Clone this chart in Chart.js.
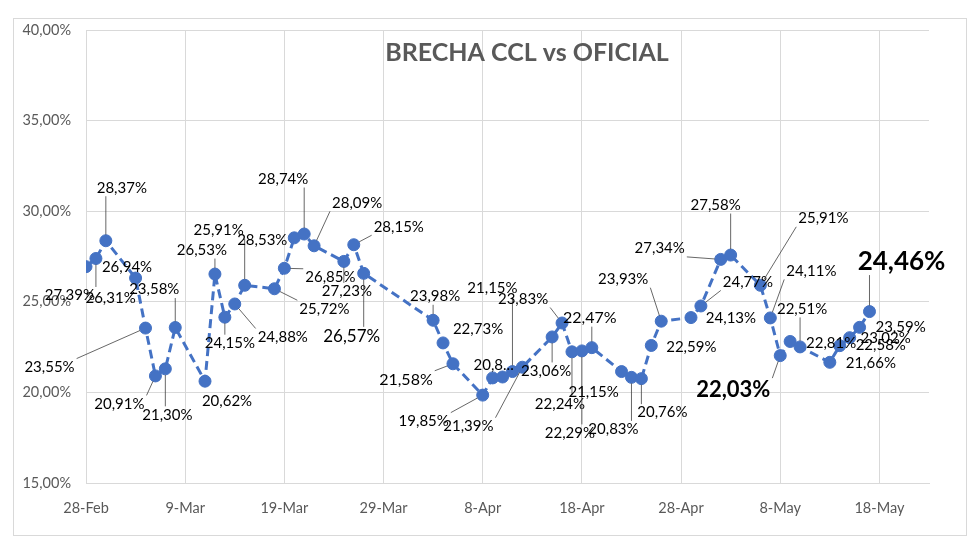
<!DOCTYPE html>
<html><head><meta charset="utf-8">
<script src="https://cdn.jsdelivr.net/npm/chart.js@4.4.1/dist/chart.umd.min.js"></script>
<style>html,body{margin:0;padding:0;background:#fff}#wrap{width:980px;height:551px;position:relative}</style>
</head><body><div id="wrap"><canvas id="c" width="980" height="551"></canvas></div>
<script>
// ---- DATA ----
const chartTitle = 'BRECHA CCL vs OFICIAL';
const dates = ['2024-02-28','2024-02-29','2024-03-01','2024-03-04','2024-03-05','2024-03-06','2024-03-07','2024-03-08',
 '2024-03-11','2024-03-12','2024-03-13','2024-03-14','2024-03-15','2024-03-18','2024-03-19','2024-03-20','2024-03-21','2024-03-22',
 '2024-03-25','2024-03-26','2024-03-27','2024-04-03','2024-04-04','2024-04-05','2024-04-08','2024-04-09','2024-04-10','2024-04-11',
 '2024-04-12','2024-04-15','2024-04-16','2024-04-17','2024-04-18','2024-04-19','2024-04-22','2024-04-23','2024-04-24','2024-04-25',
 '2024-04-26','2024-04-29','2024-04-30','2024-05-02','2024-05-03','2024-05-06','2024-05-07','2024-05-08','2024-05-09','2024-05-10',
 '2024-05-13','2024-05-14','2024-05-15','2024-05-16','2024-05-17'];
const brecha = [26.94,27.39,28.37,26.31,23.55,20.91,21.30,23.58,
 20.62,26.53,24.15,24.88,25.91,25.72,26.85,28.53,28.74,28.09,
 27.23,28.15,26.57,23.98,22.73,21.58,19.85,20.80,20.85,21.15,
 21.39,23.06,23.83,22.24,22.29,22.47,21.15,20.83,20.76,22.59,
 23.93,24.13,24.77,27.34,27.58,25.91,24.11,22.03,22.81,22.51,
 21.66,22.58,23.02,23.59,24.46];
const labelOverride = {'2024-04-09':'20,8...','2024-04-10':''};
const xStart = '2024-02-28', xEnd = '2024-05-23';
const xTickLabels = ['28-Feb','9-Mar','19-Mar','29-Mar','8-Apr','18-Apr','28-Apr','8-May','18-May'];
const xTickDates  = ['2024-02-28','2024-03-09','2024-03-19','2024-03-29','2024-04-08','2024-04-18','2024-04-28','2024-05-08','2024-05-18'];
const yTicks = [15,20,25,30,35,40];

// ---- label layout (offset from point, leader flag, style) ----
const labelLayout = [
 [41,1,0,'n'],[-26,37,1,'n'],[16,-53,1,'n'],[-25,20,0,'n'],[-96,39,1,'n'],[-36,28,1,'n'],[2,46,1,'n'],[-21,-38,1,'n'],
 [22,20,0,'n'],[-13,-24,1,'n'],[5,26,1,'n'],[48,33,1,'n'],[-26,-55,1,'n'],[50,20,1,'n'],[46,9,1,'n'],[-32,2,0,'n'],[-21,-55,1,'n'],[43,-43,1,'n'],
 [3,30,1,'n'],[45,-18,1,'n'],[-12,63,1,'L'],[2,-24,1,'n'],[35,-14,0,'n'],[-47,16,1,'M'],[-59,26,1,'n'],[1,-13,0,'n'],[0,0,0,'n'],[-20,-83,1,'n'],
 [-54,59,1,'n'],[-6,34,1,'n'],[-39,-24,1,'n'],[-12,52,1,'n'],[-12,82,1,'n'],[-2,-30,1,'M'],[-28,21,0,'n'],[-18,52,1,'n'],[21,34,1,'n'],[40,2,0,'n'],
 [-38,-42,1,'n'],[40,1,0,'n'],[47,-24,1,'n'],[-61,-11,1,'n'],[-15,-50,1,'n'],[63,-67,1,'n'],[41,-47,1,'n'],[-47,34,1,'B1'],[41,2,0,'n'],[2,-38,1,'n'],
 [41,1,0,'n'],[41,0,0,'n'],[36,0,0,'n'],[41,0,0,'n'],[32,-50,1,'B2']
];
const labelStyles = {
 n:{font:'15px Lato',h:15}, M:{font:'16px Lato',h:16}, L:{font:'17px Lato',h:17},
 B1:{font:'bold 22px Lato',h:21}, B2:{font:'bold 26px Lato',h:25}
};

const DAY = 86400000;
const toDay = s => { const [y,m,d]=s.split('-').map(Number); const [y0,m0,d0]=xStart.split('-').map(Number); return Math.round((Date.UTC(y,m-1,d)-Date.UTC(y0,m0-1,d0))/DAY); };
const fmt = v => v.toFixed(2).replace('.',',')+'%';
const points = dates.map((d,i)=>({x:toDay(d), y:brecha[i]}));
const tickDays = xTickDates.map(toDay);

const framePlugin = {
 id:'frame',
 beforeDraw(chart){
  const ctx=chart.ctx; ctx.save();
  ctx.fillStyle='#fff'; ctx.fillRect(0,0,chart.width,chart.height);
  ctx.strokeStyle='#d9d9d9'; ctx.lineWidth=1; ctx.strokeRect(13.5,18.5,953,517);
  ctx.restore();
 },
 afterDraw(chart){
  const ctx=chart.ctx; ctx.save();
  ctx.font='bold 25px Lato'; ctx.fillStyle='#595959'; ctx.textAlign='center'; ctx.textBaseline='middle';
  ctx.fillText(chartTitle, 527, 53);
  ctx.restore();
 }
};

const labelPlugin = {
 id:'lbl',
 afterDatasetsDraw(chart){
  const ctx=chart.ctx; const meta=chart.getDatasetMeta(0);
  ctx.save();
  meta.data.forEach((pt,i)=>{
   const ov = labelOverride[dates[i]];
   const txt = ov!==undefined ? ov : fmt(brecha[i]);
   if(!txt) return;
   const [dx,dy,lead,sty]=labelLayout[i];
   const st=labelStyles[sty];
   ctx.font=st.font;
   const w=ctx.measureText(txt).width, h=st.h;
   const cx=pt.x+dx, cy=pt.y+dy;
   if(lead){
    const rx0=cx-w/2-2, rx1=cx+w/2+2, ry0=cy-h/2-1, ry1=cy+h/2+1;
    const sx=Math.min(Math.max(pt.x,rx0),rx1), sy=Math.min(Math.max(pt.y,ry0),ry1);
    const ddx=pt.x-sx, ddy=pt.y-sy, d=Math.hypot(ddx,ddy);
    if(d>8){
     const ex=pt.x-ddx/d*6, ey=pt.y-ddy/d*6;
     ctx.beginPath(); ctx.moveTo(sx,sy); ctx.lineTo(ex,ey);
     ctx.strokeStyle='#404040'; ctx.lineWidth=0.8; ctx.stroke();
    }
   }
   ctx.fillStyle='#000'; ctx.textAlign='center'; ctx.textBaseline='middle';
   ctx.fillText(txt,cx,cy);
  });
  ctx.restore();
 }
};

new Chart(document.getElementById('c'), {
 type:'line',
 data:{datasets:[{
  data:points, borderColor:'#4472C4', backgroundColor:'#4472C4', borderWidth:3, borderDash:[9,5],
  pointRadius:6, pointBackgroundColor:'#4472C4', pointBorderColor:'#4472C4', pointBorderWidth:1, tension:0
 }]},
 options:{
  responsive:false, animation:false, devicePixelRatio:1,
  layout:{padding:{left:0,top:30,right:51,bottom:0}},
  plugins:{legend:{display:false}, title:{display:false}, tooltip:{enabled:false}},
  scales:{
   x:{type:'linear', min:0, max:toDay(xEnd),
    afterBuildTicks:s=>{s.ticks=tickDays.map(v=>({value:v}));},
    afterFit:s=>{s.height=68;},
    grid:{color:'#d9d9d9', lineWidth:1, drawTicks:false},
    border:{color:'#d9d9d9', width:1},
    ticks:{padding:17, color:'#595959', font:{family:'Lato', size:14.5}, maxRotation:0, autoSkip:false,
     callback:v=>{const k=tickDays.indexOf(v); return k>=0?xTickLabels[k]:'';}}
   },
   y:{min:15, max:40,
    afterBuildTicks:s=>{s.ticks=yTicks.map(v=>({value:v}));},
    afterFit:s=>{s.width=86;},
    grid:{color:'#d9d9d9', lineWidth:1, drawTicks:false},
    border:{color:'#d9d9d9', width:1},
    ticks:{padding:15, color:'#595959', font:{family:'Lato', size:14.5}, callback:v=>v.toFixed(2).replace('.',',')+'%'}
   }
  }
 },
 plugins:[framePlugin,labelPlugin]
});
</script></body></html>
